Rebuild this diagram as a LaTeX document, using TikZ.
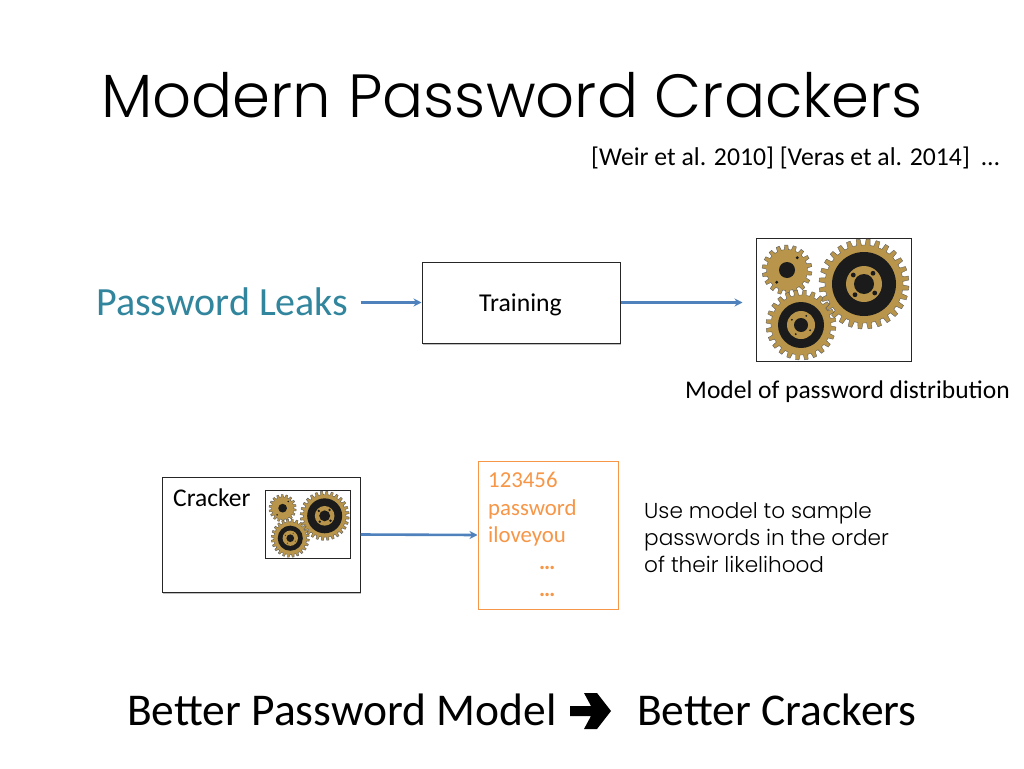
\documentclass[tikz,border=0pt]{standalone}
\usepackage{fontspec}
\usetikzlibrary{shadows,arrows.meta,calc}
\setmainfont{Carlito}
\newfontfamily\gothic[UprightFont=* Light]{Poppins}
\definecolor{leak}{HTML}{31859C}
\definecolor{conn}{HTML}{4F81BD}
\definecolor{orng}{HTML}{F79646}
\definecolor{gold}{HTML}{B8954A}
\definecolor{ink}{HTML}{1B1B1B}
\tikzset{
  txt/.style={inner sep=0pt,anchor=base west,text=black},
  flatbox/.style={draw=black!85,line width=1pt,fill=white,inner sep=0pt},
  shadowbox/.style={flatbox,drop shadow={shadow xshift=1pt,shadow yshift=-2pt,opacity=.25,fill=black}},
  conn/.style={draw=conn,line width=2.6pt,-{Stealth[length=8pt,width=8pt]}},
  geargold/.style={fill=gold,draw=ink!70,line width=.4pt},
  gearhole/.style={fill=ink}
}
% #1 cx, #2 cy, #3 outer r, #4 root r, #5 teeth
\newcommand{\geartooth}[5]{%
  \pgfmathsetmacro{\stp}{360/#5}%
  \filldraw[geargold] (#1,#2) ++(0:#4)
    \foreach \k in {1,...,#5}{
      -- ($(#1,#2)+(\k*\stp-\stp+0.12*\stp:#4)$)
      -- ($(#1,#2)+(\k*\stp-\stp+0.22*\stp:#3)$)
      -- ($(#1,#2)+(\k*\stp-\stp+0.60*\stp:#3)$)
      -- ($(#1,#2)+(\k*\stp-\stp+0.70*\stp:#4)$)
      -- ($(#1,#2)+(\k*\stp:#4)$)
    } -- cycle;}
\newcommand{\gearset}{%
  \geartooth{108}{46}{45}{39}{28}
  \fill[gearhole] (108,46) circle (32);
  \fill[gold] (108,46) circle (18);
  \fill[gearhole] (108,46) circle (10);
  \foreach \a in {40,130,220,310}{\fill[gearhole] ($(108,46)+(\a:14)$) circle (2.4);}
  \geartooth{31}{32}{25}{20.5}{18}
  \fill[gearhole] (31,32) circle (8);
  \foreach \a in {-50,130}{\fill[gearhole] ($(31,32)+(\a:16)$) circle (1.6);}
  \geartooth{45}{87}{35}{30}{24}
  \fill[gearhole] (45,87) circle (23);
  \fill[gold] (45,87) circle (14);
  \fill[gearhole] (45,87) circle (7);
  \foreach \a in {0,90,180,270}{\fill[gearhole] ($(45,87)+(\a+30:10.5)$) circle (1);}
}
\begin{document}
\begin{tikzpicture}[x=1pt,y=-1pt]
\useasboundingbox (0,0) rectangle (1024,768);
\fill[white] (0,0) rectangle (1024,768);

\node[txt] (title) at (101,117) {\gothic\fontsize{61}{61}\selectfont Modern Password Crackers};
\node[txt] (refs) at (591,165) {\fontsize{25.7}{26}\selectfont [Weir et al. 2010] [Veras et al. 2014]\ \ …};

\node[txt,text=leak] (leaks) at (96,315) {\fontsize{40}{40}\selectfont Password Leaks};

\node[shadowbox,minimum width=198pt,minimum height=81pt] (train) at (521,302.5) {};
\node[txt] (trainlbl) at (479,311) {\fontsize{25.7}{26}\selectfont Training};

\node[flatbox,minimum width=155pt,minimum height=123pt] (model) at (833.5,299.5) {};
\begin{scope}[shift={(756,238)}]
  \gearset
\end{scope}
\node[txt] (modellbl) at (685,398) {\fontsize{25.5}{26}\selectfont Model of password distribution};

\node[shadowbox,minimum width=198pt,minimum height=115pt] (cracker) at (261,534.5) {};
\node[txt] (crackerlbl) at (173,506) {\fontsize{25.5}{26}\selectfont Cracker};
\node[flatbox,minimum width=84.6pt,minimum height=67.6pt] (mini) at (308,524.5) {};
\begin{scope}[shift={(265.7,490.7)},scale=.546]
  \gearset
\end{scope}

\node[draw=orng,line width=1pt,fill=white,inner sep=0pt,minimum width=140pt,minimum height=148pt] (list) at (548,535) {};
\node[txt,text=orng] (l1) at (488,487) {\fontsize{22.8}{23}\selectfont 123456};
\node[txt,text=orng] (l2) at (488,515) {\fontsize{22.8}{23}\selectfont password};
\node[txt,text=orng] (l3) at (488,542) {\fontsize{22.8}{23}\selectfont iloveyou};
\node[txt,text=orng] (l4) at (539,569) {\fontsize{22.8}{23}\selectfont\bfseries …};
\node[txt,text=orng] (l5) at (539,596) {\fontsize{22.8}{23}\selectfont\bfseries …};

\node[txt] (u1) at (644,518) {\gothic\fontsize{21.6}{22}\selectfont Use model to sample};
\node[txt] (u2) at (644,545) {\gothic\fontsize{21.6}{22}\selectfont passwords in the order};
\node[txt] (u3) at (644,572) {\gothic\fontsize{21.6}{22}\selectfont of their likelihood};

\draw[conn,shorten <=12pt] (leaks.east |- train.west) -- (train.west);
\draw[conn,shorten >=13pt] (train.east) -- (train.east -| model.west);
\draw[conn] (cracker.east) -- (list.west);

\node[txt] (b1) at (127,725) {\fontsize{45.5}{46}\selectfont Better Password Model};
\fill[black] (570,706) -- (591,706) -- (584,693) -- (597,693) -- (611,711) -- (597,729) -- (584,729) -- (591,716) -- (570,716) -- cycle;
\node[txt] (b2) at (637,725) {\fontsize{45.5}{46}\selectfont Better Crackers};
\end{tikzpicture}
\end{document}
